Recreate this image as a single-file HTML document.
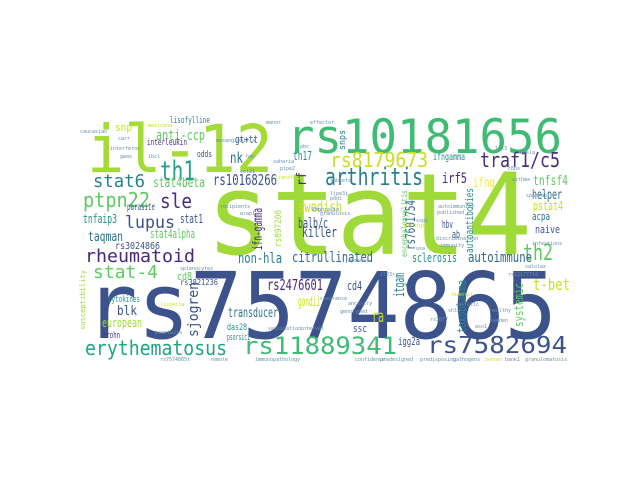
<!DOCTYPE html>
<html><head><meta charset="utf-8"><style>
html,body{margin:0;padding:0;background:#fff;}
svg{display:block;}
text{font-family:"DejaVu Sans Mono","Liberation Mono",monospace;}
</style></head><body>
<svg width="640" height="480" viewBox="0 0 640 480" xmlns="http://www.w3.org/2000/svg">
<rect width="640" height="480" fill="#fff"/>
<g>
<text x="206" y="254" font-size="113" fill="#a0da39" textLength="326" lengthAdjust="spacingAndGlyphs">stat4</text>
<text x="85" y="338" font-size="92" fill="#3b528b" textLength="472" lengthAdjust="spacingAndGlyphs">rs7574865</text>
<text x="87" y="172" font-size="66" fill="#a5db36" textLength="186" lengthAdjust="spacingAndGlyphs">il-12</text>
<text x="287" y="153" font-size="47" fill="#3fbc73" textLength="275" lengthAdjust="spacingAndGlyphs">rs10181656</text>
<text x="160" y="180" font-size="27" fill="#1fa187" textLength="35" lengthAdjust="spacingAndGlyphs">th1</text>
<text x="93" y="187" font-size="18" fill="#277f8e" textLength="52" lengthAdjust="spacingAndGlyphs">stat6</text>
<text x="83" y="207" font-size="20" fill="#5ec962" textLength="67" lengthAdjust="spacingAndGlyphs">ptpn22</text>
<text x="160" y="208" font-size="20" fill="#472d7b" textLength="32" lengthAdjust="spacingAndGlyphs">sle</text>
<text x="125" y="228" font-size="17" fill="#3b528b" textLength="50" lengthAdjust="spacingAndGlyphs">lupus</text>
<text x="85" y="262" font-size="18" fill="#482878" textLength="110" lengthAdjust="spacingAndGlyphs">rheumatoid</text>
<text x="93" y="278" font-size="18" fill="#5ec962" textLength="65" lengthAdjust="spacingAndGlyphs">stat-4</text>
<text x="85" y="355" font-size="20" fill="#20a486" textLength="142" lengthAdjust="spacingAndGlyphs">erythematosus</text>
<text x="243" y="354" font-size="24" fill="#3fbc73" textLength="154" lengthAdjust="spacingAndGlyphs">rs11889341</text>
<text x="427" y="353" font-size="23" fill="#3b528b" textLength="140" lengthAdjust="spacingAndGlyphs">rs7582694</text>
<text x="325" y="185" font-size="24" fill="#277f8e" textLength="98" lengthAdjust="spacingAndGlyphs">arthritis</text>
<text x="330" y="167" font-size="20" fill="#c8e020" textLength="98" lengthAdjust="spacingAndGlyphs">rs8179673</text>
<text x="480" y="167" font-size="20" fill="#472d7b" textLength="80" lengthAdjust="spacingAndGlyphs">traf1/c5</text>
<text x="523" y="260" font-size="22" fill="#5ec962" textLength="30" lengthAdjust="spacingAndGlyphs">th2</text>
<text x="292" y="262" font-size="14" fill="#31688e" textLength="81" lengthAdjust="spacingAndGlyphs">citrullinated</text>
<text x="468" y="262" font-size="14" fill="#31688e" textLength="64" lengthAdjust="spacingAndGlyphs">autoimmune</text>
<text x="412" y="262" font-size="12" fill="#21918c" textLength="45" lengthAdjust="spacingAndGlyphs">sclerosis</text>
<text x="238" y="263" font-size="14" fill="#277f8e" textLength="44" lengthAdjust="spacingAndGlyphs">non-hla</text>
<text x="267" y="290" font-size="15" fill="#482878" textLength="56" lengthAdjust="spacingAndGlyphs">rs2476601</text>
<text x="347" y="290" font-size="12" fill="#3b528b" textLength="15" lengthAdjust="spacingAndGlyphs">cd4</text>
<text x="298" y="212" font-size="15" fill="#c8e020" textLength="44" lengthAdjust="spacingAndGlyphs">swedish</text>
<text x="298" y="228" font-size="14" fill="#3b528b" textLength="30" lengthAdjust="spacingAndGlyphs">balb/c</text>
<text x="302" y="237" font-size="14" fill="#3b528b" textLength="35" lengthAdjust="spacingAndGlyphs">killer</text>
<text x="213" y="185" font-size="15" fill="#3b528b" textLength="64" lengthAdjust="spacingAndGlyphs">rs10168266</text>
<text x="230" y="163" font-size="15" fill="#2c728e" textLength="13" lengthAdjust="spacingAndGlyphs">nk</text>
<text x="235" y="143" font-size="11" fill="#3b528b" textLength="23" lengthAdjust="spacingAndGlyphs">gt+tt</text>
<text x="293" y="160" font-size="12" fill="#21918c" textLength="19" lengthAdjust="spacingAndGlyphs">th17</text>
<text x="442" y="183" font-size="14" fill="#472d7b" textLength="25" lengthAdjust="spacingAndGlyphs">irf5</text>
<text x="473" y="187" font-size="13" fill="#fde725" textLength="22" lengthAdjust="spacingAndGlyphs">ifng</text>
<text x="433" y="160" font-size="10" fill="#21918c" textLength="32" lengthAdjust="spacingAndGlyphs">ifngamma</text>
<text x="533" y="185" font-size="13" fill="#5ec962" textLength="35" lengthAdjust="spacingAndGlyphs">tnfsf4</text>
<text x="532" y="199" font-size="13" fill="#2c728e" textLength="30" lengthAdjust="spacingAndGlyphs">helper</text>
<text x="533" y="210" font-size="12" fill="#c8e020" textLength="30" lengthAdjust="spacingAndGlyphs">pstat4</text>
<text x="532" y="220" font-size="11" fill="#2c728e" textLength="18" lengthAdjust="spacingAndGlyphs">acpa</text>
<text x="535" y="233" font-size="11" fill="#3b528b" textLength="25" lengthAdjust="spacingAndGlyphs">naive</text>
<text x="442" y="228" font-size="11" fill="#3b528b" textLength="11" lengthAdjust="spacingAndGlyphs">hbv</text>
<text x="452" y="238" font-size="11" fill="#3b528b" textLength="8" lengthAdjust="spacingAndGlyphs">ab</text>
<text x="180" y="223" font-size="12" fill="#3b528b" textLength="23" lengthAdjust="spacingAndGlyphs">stat1</text>
<text x="372" y="322" font-size="17" fill="#c8e020" textLength="12" lengthAdjust="spacingAndGlyphs">ra</text>
<text x="398" y="345" font-size="11" fill="#3b528b" textLength="22" lengthAdjust="spacingAndGlyphs">igg2a</text>
<text x="353" y="332" font-size="11" fill="#3b528b" textLength="14" lengthAdjust="spacingAndGlyphs">ssc</text>
<text x="533" y="290" font-size="16" fill="#c8e020" textLength="37" lengthAdjust="spacingAndGlyphs">t-bet</text>
<text x="170" y="123" font-size="9" fill="#277f8e" textLength="40" lengthAdjust="spacingAndGlyphs">lisofylline</text>
<text x="115" y="131" font-size="11" fill="#c8e020" textLength="17" lengthAdjust="spacingAndGlyphs">snp</text>
<text x="156" y="140" font-size="14" fill="#5ec962" textLength="49" lengthAdjust="spacingAndGlyphs">anti-ccp</text>
<text x="147" y="145" font-size="9" fill="#472d7b" textLength="40" lengthAdjust="spacingAndGlyphs">interleukin</text>
<text x="83" y="223" font-size="12" fill="#21918c" textLength="34" lengthAdjust="spacingAndGlyphs">tnfaip3</text>
<text x="127" y="210" font-size="10" fill="#3b528b" textLength="28" lengthAdjust="spacingAndGlyphs">parasite</text>
<text x="153" y="187" font-size="13" fill="#5ec962" textLength="52" lengthAdjust="spacingAndGlyphs">stat4beta</text>
<text x="197" y="157" font-size="9" fill="#3b528b" textLength="15" lengthAdjust="spacingAndGlyphs">odds</text>
<text x="88" y="241" font-size="13" fill="#2c728e" textLength="35" lengthAdjust="spacingAndGlyphs">taqman</text>
<text x="150" y="238" font-size="12" fill="#5ec962" textLength="45" lengthAdjust="spacingAndGlyphs">stat4alpha</text>
<text x="115" y="249" font-size="10" fill="#3b528b" textLength="45" lengthAdjust="spacingAndGlyphs">rs3024866</text>
<text x="177" y="280" font-size="11" fill="#5ec962" textLength="15" lengthAdjust="spacingAndGlyphs">cd8</text>
<text x="180" y="285" font-size="8" fill="#3b528b" textLength="38" lengthAdjust="spacingAndGlyphs">rs3821236</text>
<text x="117" y="315" font-size="13" fill="#3b528b" textLength="20" lengthAdjust="spacingAndGlyphs">blk</text>
<text x="108" y="302" font-size="9" fill="#21918c" textLength="32" lengthAdjust="spacingAndGlyphs">cytokines</text>
<text x="228" y="317" font-size="13" fill="#2c728e" textLength="50" lengthAdjust="spacingAndGlyphs">transducer</text>
<text x="102" y="327" font-size="12" fill="#a0da39" textLength="40" lengthAdjust="spacingAndGlyphs">european</text>
<text x="103" y="338" font-size="9" fill="#472d7b" textLength="17" lengthAdjust="spacingAndGlyphs">crohn</text>
<text x="298" y="306" font-size="13" fill="#c8e020" textLength="22" lengthAdjust="spacingAndGlyphs">gondii</text>
<text x="227" y="330" font-size="9" fill="#21918c" textLength="20" lengthAdjust="spacingAndGlyphs">das28</text>
<text x="227" y="340" font-size="9" fill="#277f8e" textLength="23" lengthAdjust="spacingAndGlyphs">psorsic1</text>
<text transform="translate(262,250) rotate(-90)" font-size="13" fill="#472d7b" textLength="42" lengthAdjust="spacingAndGlyphs">ifn-gamma</text>
<text transform="translate(281,247) rotate(-90)" font-size="9" fill="#a0da39" textLength="37" lengthAdjust="spacingAndGlyphs">rs897200</text>
<text transform="translate(415,250) rotate(-90)" font-size="13" fill="#31688e" textLength="50" lengthAdjust="spacingAndGlyphs">rs7601754</text>
<text transform="translate(473,253) rotate(-90)" font-size="11" fill="#21918c" textLength="65" lengthAdjust="spacingAndGlyphs">autoantibodies</text>
<text transform="translate(407,257) rotate(-90)" font-size="8" fill="#5ec962" textLength="67" lengthAdjust="spacingAndGlyphs">encephalomyelitis</text>
<text transform="translate(404,297) rotate(-90)" font-size="14" fill="#277f8e" textLength="24" lengthAdjust="spacingAndGlyphs">itgam</text>
<text transform="translate(466,333) rotate(-90)" font-size="12" fill="#21918c" textLength="53" lengthAdjust="spacingAndGlyphs">toxoplasma</text>
<text transform="translate(523,327) rotate(-90)" font-size="12" fill="#5ec962" textLength="44" lengthAdjust="spacingAndGlyphs">systemic</text>
<text transform="translate(198,337) rotate(-90)" font-size="14" fill="#3b528b" textLength="55" lengthAdjust="spacingAndGlyphs">sjogren</text>
<text transform="translate(85,330) rotate(-90)" font-size="7" fill="#a0da39" textLength="60" lengthAdjust="spacingAndGlyphs">susceptibility</text>
<text transform="translate(306,186) rotate(-90)" font-size="13" fill="#472d7b" textLength="14" lengthAdjust="spacingAndGlyphs">rf</text>
<text transform="translate(345,150) rotate(-90)" font-size="9" fill="#277f8e" textLength="20" lengthAdjust="spacingAndGlyphs">snps</text>
<g font-size="5" fill="#6a8ea8">
<text x="80" y="133">caucasian</text><text x="118" y="140">carr</text><text x="110" y="150">interferon</text>
<text x="120" y="158">gwas</text><text x="148" y="158">ibcl</text><text x="148" y="127" fill="#c8e020">mexicana</text>
<text x="216" y="142">mesangiohilia</text><text x="246" y="158">han</text><text x="266" y="124">manor</text>
<text x="310" y="124">effector</text><text x="300" y="148">pbc</text><text x="273" y="163">saharia</text>
<text x="280" y="170">pipe2</text><text x="240" y="173">ccl21</text><text x="275" y="179" fill="#c8e020">transfer</text>
<text x="330" y="182">subsets</text><text x="330" y="195">ljpe3i</text><text x="330" y="200">pddi</text>
<text x="220" y="208">recipients</text><text x="240" y="215">wrap1</text><text x="312" y="211">emphrasio</text>
<text x="320" y="215">granulosis</text><text x="438" y="208">autoimmunity</text><text x="437" y="214">published</text>
<text x="416" y="222">ssp1</text><text x="404" y="227" fill="#c8e020">allergic</text><text x="436" y="240">discrimination</text>
<text x="440" y="247">immunity</text><text x="416" y="250">usa</text><text x="532" y="245">infections</text>
<text x="525" y="268">salolax</text><text x="508" y="276">rs12177710</text><text x="452" y="296" fill="#c8e020">humoral</text>
<text x="448" y="312">shlk</text><text x="430" y="321">rs3877</text><text x="490" y="312">healthy</text>
<text x="490" y="322">sweden</text><text x="458" y="306">allelic</text><text x="475" y="328">aso1</text>
<text x="320" y="300">clearance</text><text x="348" y="305">ancestry</text><text x="340" y="313">genotyped</text>
<text x="300" y="330">interval</text><text x="268" y="330">vaccination</text><text x="160" y="361">rs7574865t</text>
<text x="255" y="361">immunopathology</text><text x="355" y="361">confidence</text><text x="380" y="361">predesigned</text>
<text x="420" y="361">predisposing</text><text x="453" y="361">pathogens</text><text x="485" y="361" fill="#c8e020">bonner</text>
<text x="505" y="361">bank1</text><text x="525" y="361">granulomatosis</text><text x="210" y="361">remote</text>
<text x="180" y="270">splenocytes</text><text x="155" y="334">psoriasis</text><text x="160" y="306" fill="#c8e020">listeria</text>
<text x="380" y="276">il23r</text><text x="345" y="262">japanese</text><text x="520" y="154">hasla</text>
<text x="495" y="150">lyk3</text><text x="508" y="170">c8bs</text><text x="512" y="181">asthma</text><text x="526" y="197">sparrab</text>
</g>
</g>
</svg>
</body></html>
